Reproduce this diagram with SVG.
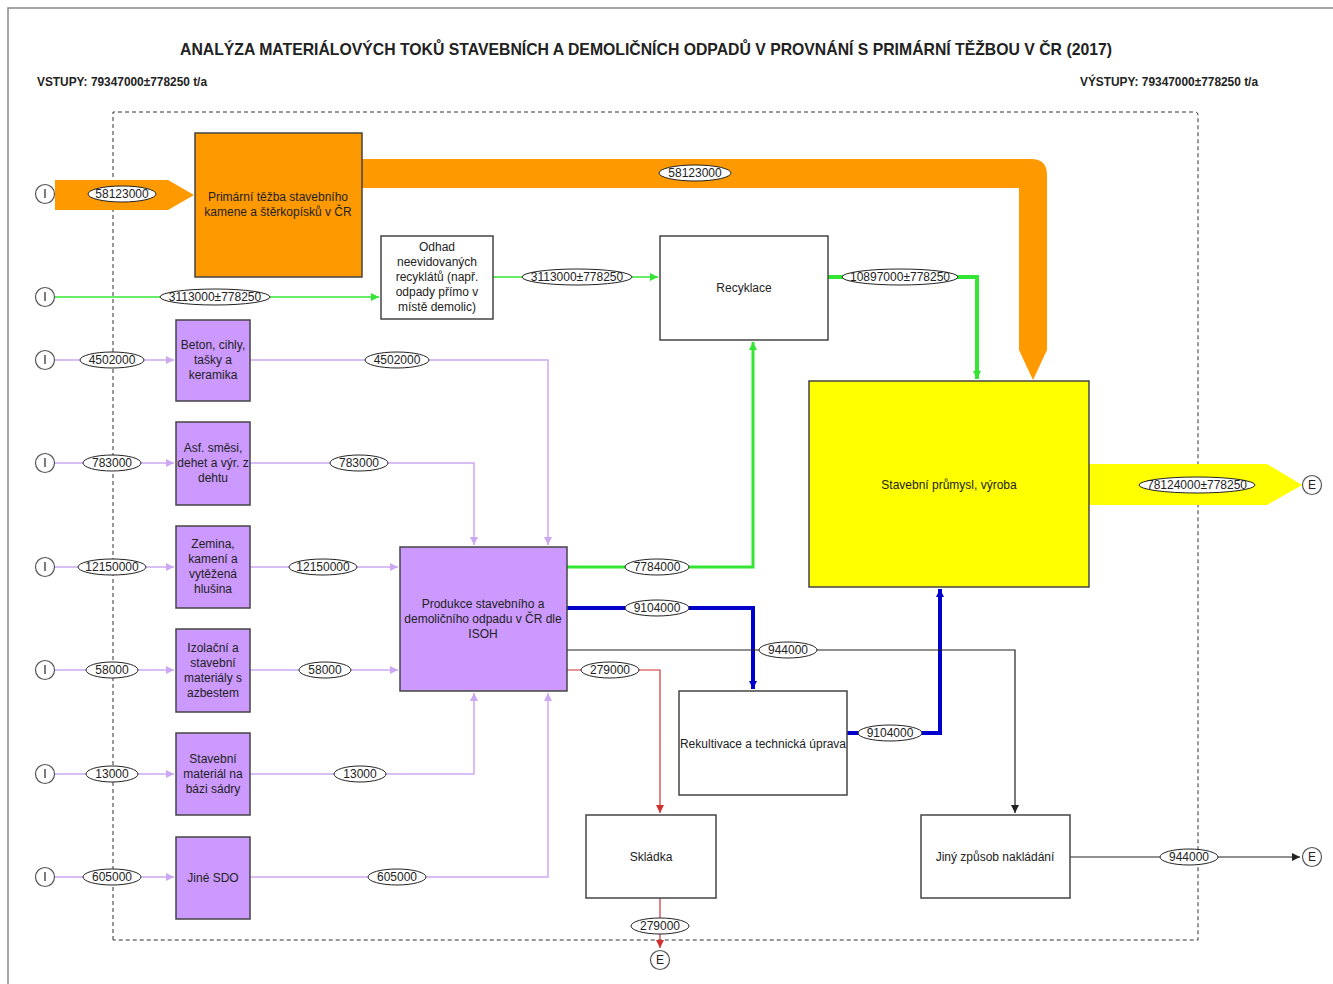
<svg xmlns="http://www.w3.org/2000/svg" width="1333" height="984" viewBox="0 0 1333 984">
<style>
text{font-family:"Liberation Sans",Arial,sans-serif;fill:#222}
.nt{font-size:12px;text-anchor:middle}
.lb{font-size:12px;text-anchor:middle;dominant-baseline:central}
.el{fill:#fff;stroke:#222;stroke-width:1}
.box{stroke:#444;stroke-width:1.5}
.wb{fill:#fff}
.pb{fill:#CC99FF}
.circ{fill:#fff;stroke:#555;stroke-width:1.2}
.pl{fill:none;stroke:#CDA8F2;stroke-width:1.5}
.gl{fill:none;stroke:#33E633}
.bl{fill:none;stroke:#0000CC;stroke-width:4}
.kl{fill:none;stroke:#222;stroke-width:1.2}
.rl{fill:none;stroke:#D03030;stroke-width:1.2}
</style>
<defs>
<marker id="mp" markerUnits="userSpaceOnUse" markerWidth="10" markerHeight="10" refX="8" refY="5" orient="auto"><path d="M0,1 L8,5 L0,9 Z" fill="#CDA8F2"/></marker>
<marker id="mg" markerUnits="userSpaceOnUse" markerWidth="10" markerHeight="10" refX="8" refY="5" orient="auto"><path d="M0,1 L8,5 L0,9 Z" fill="#33E633"/></marker>
<marker id="mb" markerUnits="userSpaceOnUse" markerWidth="10" markerHeight="10" refX="8" refY="5" orient="auto"><path d="M0,1 L8,5 L0,9 Z" fill="#0000CC"/></marker>
<marker id="mk" markerUnits="userSpaceOnUse" markerWidth="10" markerHeight="10" refX="8" refY="5" orient="auto"><path d="M0,1 L8,5 L0,9 Z" fill="#222"/></marker>
<marker id="mr" markerUnits="userSpaceOnUse" markerWidth="10" markerHeight="10" refX="8" refY="5" orient="auto"><path d="M0,1 L8,5 L0,9 Z" fill="#D03030"/></marker>
</defs>
<rect width="1333" height="984" fill="#fff"/>
<path d="M8,984 V8 H1333" fill="none" stroke="#888" stroke-width="1.5"/>
<text x="646" y="55" style="font-size:17px;font-weight:bold;text-anchor:middle" textLength="932" lengthAdjust="spacingAndGlyphs">ANALÝZA MATERIÁLOVÝCH TOKŮ STAVEBNÍCH A DEMOLIČNÍCH ODPADŮ V PROVNÁNÍ S PRIMÁRNÍ TĚŽBOU V ČR (2017)</text>
<text x="37" y="86" style="font-size:12px;font-weight:bold" textLength="170" lengthAdjust="spacingAndGlyphs">VSTUPY: 79347000±778250 t/a</text>
<text x="1080" y="86" style="font-size:12px;font-weight:bold" textLength="178" lengthAdjust="spacingAndGlyphs">VÝSTUPY: 79347000±778250 t/a</text>
<path d="M113,940 V112 H1195 Q1198,112 1198,115 V940 Z" fill="none" stroke="#333" stroke-width="1" stroke-dasharray="4 3"/>

<g id="connectors">
<!-- orange flows -->
<path d="M55,180 H168 L194,195 L168,210 H55 Z" fill="#FF9900"/>
<path d="M362,159 H1031 Q1047,159 1047,175 V350 L1033,380 L1019,350 V188 H362 Z" fill="#FF9900"/>
<!-- yellow output -->
<path d="M1089,464 H1267 L1302,485 L1267,505 H1089 Z" fill="#FFFF00"/>
<!-- green -->
<path class="gl" stroke-width="1.5" d="M55,297 H379" marker-end="url(#mg)"/>
<path class="gl" stroke-width="1.5" d="M493,277 H658" marker-end="url(#mg)"/>
<path class="gl" stroke-width="4" d="M828,277 H977 V379" marker-end="url(#mg)"/>
<path class="gl" stroke-width="3" d="M567,567 H753 V342" marker-end="url(#mg)"/>
<!-- purple inputs -->
<path class="pl" d="M55,360 H174" marker-end="url(#mp)"/>
<path class="pl" d="M55,463 H174" marker-end="url(#mp)"/>
<path class="pl" d="M55,567 H174" stroke-width="5" marker-end="url(#mp)"/>
<path class="pl" d="M55,670 H174" marker-end="url(#mp)"/>
<path class="pl" d="M55,774 H174" marker-end="url(#mp)"/>
<path class="pl" d="M55,877 H174" marker-end="url(#mp)"/>
<!-- purple to Produkce -->
<path class="pl" d="M250,360 H548 V545" marker-end="url(#mp)"/>
<path class="pl" d="M250,463 H474 V545" marker-end="url(#mp)"/>
<path class="pl" d="M250,567 H398" stroke-width="5" marker-end="url(#mp)"/>
<path class="pl" d="M250,670 H398" marker-end="url(#mp)"/>
<path class="pl" d="M250,774 H474 V693" marker-end="url(#mp)"/>
<path class="pl" d="M250,877 H548 V693" marker-end="url(#mp)"/>
<!-- blue -->
<path class="bl" d="M567,608 H753 V689" marker-end="url(#mb)"/>
<path class="bl" d="M847,733 H940 V589" marker-end="url(#mb)"/>
<!-- black -->
<path class="kl" d="M567,650 H1015 V813" marker-end="url(#mk)"/>
<path class="kl" d="M1070,857 H1300" marker-end="url(#mk)"/>
<!-- red -->
<path class="rl" d="M567,670 H660 V813" marker-end="url(#mr)"/>
<path class="rl" d="M660,898 V948" marker-end="url(#mr)"/>

<!-- labels -->
<ellipse class="el" cx="122" cy="194" rx="34" ry="8"/><text class="lb" x="122" y="194">58123000</text>
<ellipse class="el" cx="695" cy="173" rx="36" ry="8"/><text class="lb" x="695" y="173">58123000</text>
<ellipse class="el" cx="215" cy="297" rx="55" ry="8"/><text class="lb" x="215" y="297">3113000±778250</text>
<ellipse class="el" cx="577" cy="277" rx="55" ry="8"/><text class="lb" x="577" y="277">3113000±778250</text>
<ellipse class="el" cx="900" cy="277" rx="58" ry="8"/><text class="lb" x="900" y="277">10897000±778250</text>
<ellipse class="el" cx="1197" cy="485" rx="58" ry="8"/><text class="lb" x="1197" y="485">78124000±778250</text>
<ellipse class="el" cx="112" cy="360" rx="32" ry="8"/><text class="lb" x="112" y="360">4502000</text>
<ellipse class="el" cx="112" cy="463" rx="29" ry="8"/><text class="lb" x="112" y="463">783000</text>
<ellipse class="el" cx="112" cy="567" rx="34" ry="8"/><text class="lb" x="112" y="567">12150000</text>
<ellipse class="el" cx="112" cy="670" rx="26" ry="8"/><text class="lb" x="112" y="670">58000</text>
<ellipse class="el" cx="112" cy="774" rx="26" ry="8"/><text class="lb" x="112" y="774">13000</text>
<ellipse class="el" cx="112" cy="877" rx="29" ry="8"/><text class="lb" x="112" y="877">605000</text>
<ellipse class="el" cx="397" cy="360" rx="32" ry="8"/><text class="lb" x="397" y="360">4502000</text>
<ellipse class="el" cx="359" cy="463" rx="29" ry="8"/><text class="lb" x="359" y="463">783000</text>
<ellipse class="el" cx="323" cy="567" rx="34" ry="8"/><text class="lb" x="323" y="567">12150000</text>
<ellipse class="el" cx="325" cy="670" rx="26" ry="8"/><text class="lb" x="325" y="670">58000</text>
<ellipse class="el" cx="360" cy="774" rx="26" ry="8"/><text class="lb" x="360" y="774">13000</text>
<ellipse class="el" cx="397" cy="877" rx="29" ry="8"/><text class="lb" x="397" y="877">605000</text>
<ellipse class="el" cx="657" cy="567" rx="32" ry="8"/><text class="lb" x="657" y="567">7784000</text>
<ellipse class="el" cx="657" cy="608" rx="32" ry="8"/><text class="lb" x="657" y="608">9104000</text>
<ellipse class="el" cx="788" cy="650" rx="29" ry="8"/><text class="lb" x="788" y="650">944000</text>
<ellipse class="el" cx="610" cy="670" rx="29" ry="8"/><text class="lb" x="610" y="670">279000</text>
<ellipse class="el" cx="890" cy="733" rx="32" ry="8"/><text class="lb" x="890" y="733">9104000</text>
<ellipse class="el" cx="660" cy="926" rx="29" ry="8"/><text class="lb" x="660" y="926">279000</text>
<ellipse class="el" cx="1189" cy="857" rx="29" ry="8"/><text class="lb" x="1189" y="857">944000</text>
</g>

<g id="inputs">
<circle class="circ" cx="45" cy="194" r="9.5"/><text class="lb" x="45" y="194">I</text>
<circle class="circ" cx="45" cy="297" r="9.5"/><text class="lb" x="45" y="297">I</text>
<circle class="circ" cx="45" cy="360" r="9.5"/><text class="lb" x="45" y="360">I</text>
<circle class="circ" cx="45" cy="463" r="9.5"/><text class="lb" x="45" y="463">I</text>
<circle class="circ" cx="45" cy="567" r="9.5"/><text class="lb" x="45" y="567">I</text>
<circle class="circ" cx="45" cy="670" r="9.5"/><text class="lb" x="45" y="670">I</text>
<circle class="circ" cx="45" cy="774" r="9.5"/><text class="lb" x="45" y="774">I</text>
<circle class="circ" cx="45" cy="877" r="9.5"/><text class="lb" x="45" y="877">I</text>
</g>
<g id="outputs">
<circle class="circ" cx="1312" cy="485" r="9.5"/><text class="lb" x="1312" y="485">E</text>
<circle class="circ" cx="1312" cy="857" r="9.5"/><text class="lb" x="1312" y="857">E</text>
<circle class="circ" cx="660" cy="960" r="9.5"/><text class="lb" x="660" y="960">E</text>
</g>

<g id="primarni"><rect class="box" x="195" y="133" width="167" height="144" fill="#FF9900"/>
<text class="nt" x="278" y="201">Primární těžba stavebního</text><text class="nt" x="278" y="216">kamene a štěrkopísků v ČR</text></g>
<g id="odhad"><rect class="box wb" x="381" y="236" width="112" height="83"/>
<text class="nt" x="437" y="251">Odhad</text><text class="nt" x="437" y="266">neevidovaných</text><text class="nt" x="437" y="281">recyklátů (např.</text><text class="nt" x="437" y="296">odpady přímo v</text><text class="nt" x="437" y="311">místě demolic)</text></g>
<g id="recyklace"><rect class="box wb" x="660" y="236" width="168" height="104"/>
<text class="nt" x="744" y="292">Recyklace</text></g>
<g id="stavebni"><rect class="box" x="809" y="381" width="280" height="206" fill="#FFFF00"/>
<text class="nt" x="949" y="489">Stavební průmysl, výroba</text></g>
<g id="beton"><rect class="box pb" x="176" y="320" width="74" height="81"/>
<text class="nt" x="213" y="349">Beton, cihly,</text><text class="nt" x="213" y="364">tašky a</text><text class="nt" x="213" y="379">keramika</text></g>
<g id="asf"><rect class="box pb" x="176" y="422" width="74" height="83"/>
<text class="nt" x="213" y="452">Asf. směsi,</text><text class="nt" x="213" y="467">dehet a výr. z</text><text class="nt" x="213" y="482">dehtu</text></g>
<g id="zemina"><rect class="box pb" x="176" y="526" width="74" height="82"/>
<text class="nt" x="213" y="548">Zemina,</text><text class="nt" x="213" y="563">kamení a</text><text class="nt" x="213" y="578">vytěžená</text><text class="nt" x="213" y="593">hlušina</text></g>
<g id="izolacni"><rect class="box pb" x="176" y="629" width="74" height="83"/>
<text class="nt" x="213" y="652">Izolační a</text><text class="nt" x="213" y="667">stavební</text><text class="nt" x="213" y="682">materiály s</text><text class="nt" x="213" y="697">azbestem</text></g>
<g id="sadra"><rect class="box pb" x="176" y="733" width="74" height="82"/>
<text class="nt" x="213" y="763">Stavební</text><text class="nt" x="213" y="778">materiál na</text><text class="nt" x="213" y="793">bázi sádry</text></g>
<g id="jine"><rect class="box pb" x="176" y="837" width="74" height="82"/>
<text class="nt" x="213" y="882">Jiné SDO</text></g>
<g id="produkce"><rect class="box pb" x="400" y="547" width="167" height="144"/>
<text class="nt" x="483" y="608">Produkce stavebního a</text><text class="nt" x="483" y="623">demoličního odpadu v ČR dle</text><text class="nt" x="483" y="638">ISOH</text></g>
<g id="rekultivace"><rect class="box wb" x="679" y="691" width="168" height="104"/>
<text class="nt" x="763" y="748">Rekultivace a technická úprava</text></g>
<g id="skladka"><rect class="box wb" x="586" y="815" width="130" height="83"/>
<text class="nt" x="651" y="861">Skládka</text></g>
<g id="jiny"><rect class="box wb" x="921" y="815" width="149" height="83"/>
<text class="nt" x="995" y="861">Jiný způsob nakládání</text></g>
</svg>
